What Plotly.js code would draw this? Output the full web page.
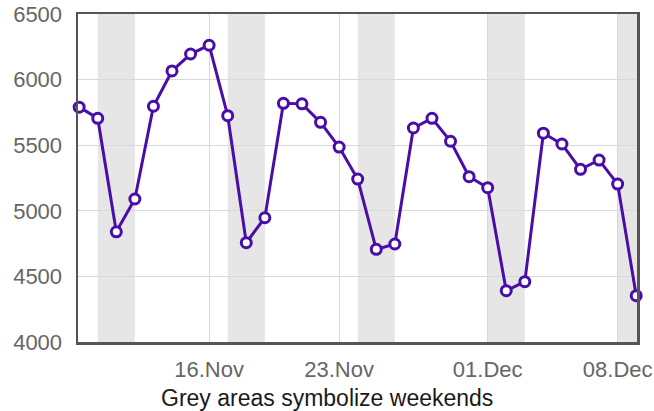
<!DOCTYPE html>
<html>
<head>
<meta charset="utf-8">
<script src="https://cdn.plot.ly/plotly-3.0.1.min.js"></script>
<style>html,body{margin:0;padding:0;background:#fff;}#chart{width:654px;height:411px;}</style>
</head>
<body>
<div id="chart"></div>
<script>
const dates = ["2014-11-09","2014-11-10","2014-11-11","2014-11-12","2014-11-13","2014-11-14","2014-11-15",
  "2014-11-16","2014-11-17","2014-11-18","2014-11-19","2014-11-20","2014-11-21","2014-11-22",
  "2014-11-23","2014-11-24","2014-11-25","2014-11-26","2014-11-27","2014-11-28","2014-11-29",
  "2014-11-30","2014-12-01","2014-12-02","2014-12-03","2014-12-04","2014-12-05","2014-12-06",
  "2014-12-07","2014-12-08","2014-12-09"];
const values = [5790,5705,4840,5090,5797,6066,6195,6262,5725,4757,4947,5819,5815,5674,5486,5242,4706,4747,
  5631,5705,5530,5260,5176,4391,4460,5592,5509,5316,5387,5204,4353];
const weekendStarts = ["2014-11-10","2014-11-17","2014-11-24","2014-12-01","2014-12-08"];
const weekendEnds   = ["2014-11-12","2014-11-19","2014-11-26","2014-12-03","2014-12-10"];
const tickDates = ["2014-11-16","2014-11-23","2014-12-01","2014-12-08"];
const tickLabels = ["16.Nov","23.Nov","01.Dec","08.Dec"];
const yTicks = [4000,4500,5000,5500,6000,6500];
const xTitle = "Grey areas symbolize weekends";

const shapes = weekendStarts.map((s,i)=>({
  type:'rect', xref:'x', yref:'paper', x0:s, x1:weekendEnds[i], y0:0, y1:1,
  fillcolor:'#e6e6e6', line:{width:0}, layer:'below'
}));

const trace = {
  x: dates, y: values, type:'scatter', mode:'lines+markers',
  line:{color:'#4a0ea8', width:3},
  marker:{size:10, color:'#ffffff', line:{color:'#4a0ea8', width:3}},
  hoverinfo:'x+y', cliponaxis:false
};

const layout = {
  width:654, height:411,
  margin:{l:78, r:17, t:14, b:69},
  paper_bgcolor:'#ffffff', plot_bgcolor:'#ffffff',
  showlegend:false,
  font:{family:'"Liberation Sans", Arial, sans-serif'},
  shapes: shapes,
  annotations:[{
    text:xTitle, xref:'paper', yref:'paper', x:0.445, y:-0.171,
    xanchor:'center', yanchor:'middle', showarrow:false,
    font:{size:23, color:'#1a1a1a'}
  }],
  xaxis:{
    type:'date',
    range:['2014-11-08 22:30','2014-12-09 01:00'],
    tickvals: tickDates, ticktext: tickLabels,
    tickfont:{size:22, color:'#666666'},
    ticks:'', showgrid:true, gridcolor:'#d9d9d9', gridwidth:1,
    showline:true, mirror:true, linecolor:'#555555', linewidth:2.5,
    zeroline:false, ticklabelstandoff:6,
    automargin:false
  },
  yaxis:{
    range:[4000,6500],
    tickvals: yTicks,
    tickfont:{size:22, color:'#666666'},
    ticks:'', showgrid:true, gridcolor:'#d9d9d9', gridwidth:1,
    showline:true, mirror:true, linecolor:'#555555', linewidth:2.5,
    zeroline:false, ticklabelstandoff:9, automargin:false
  }
};

Plotly.newPlot('chart',[trace],layout,{displayModeBar:false, staticPlot:true});
</script>
</body>
</html>
